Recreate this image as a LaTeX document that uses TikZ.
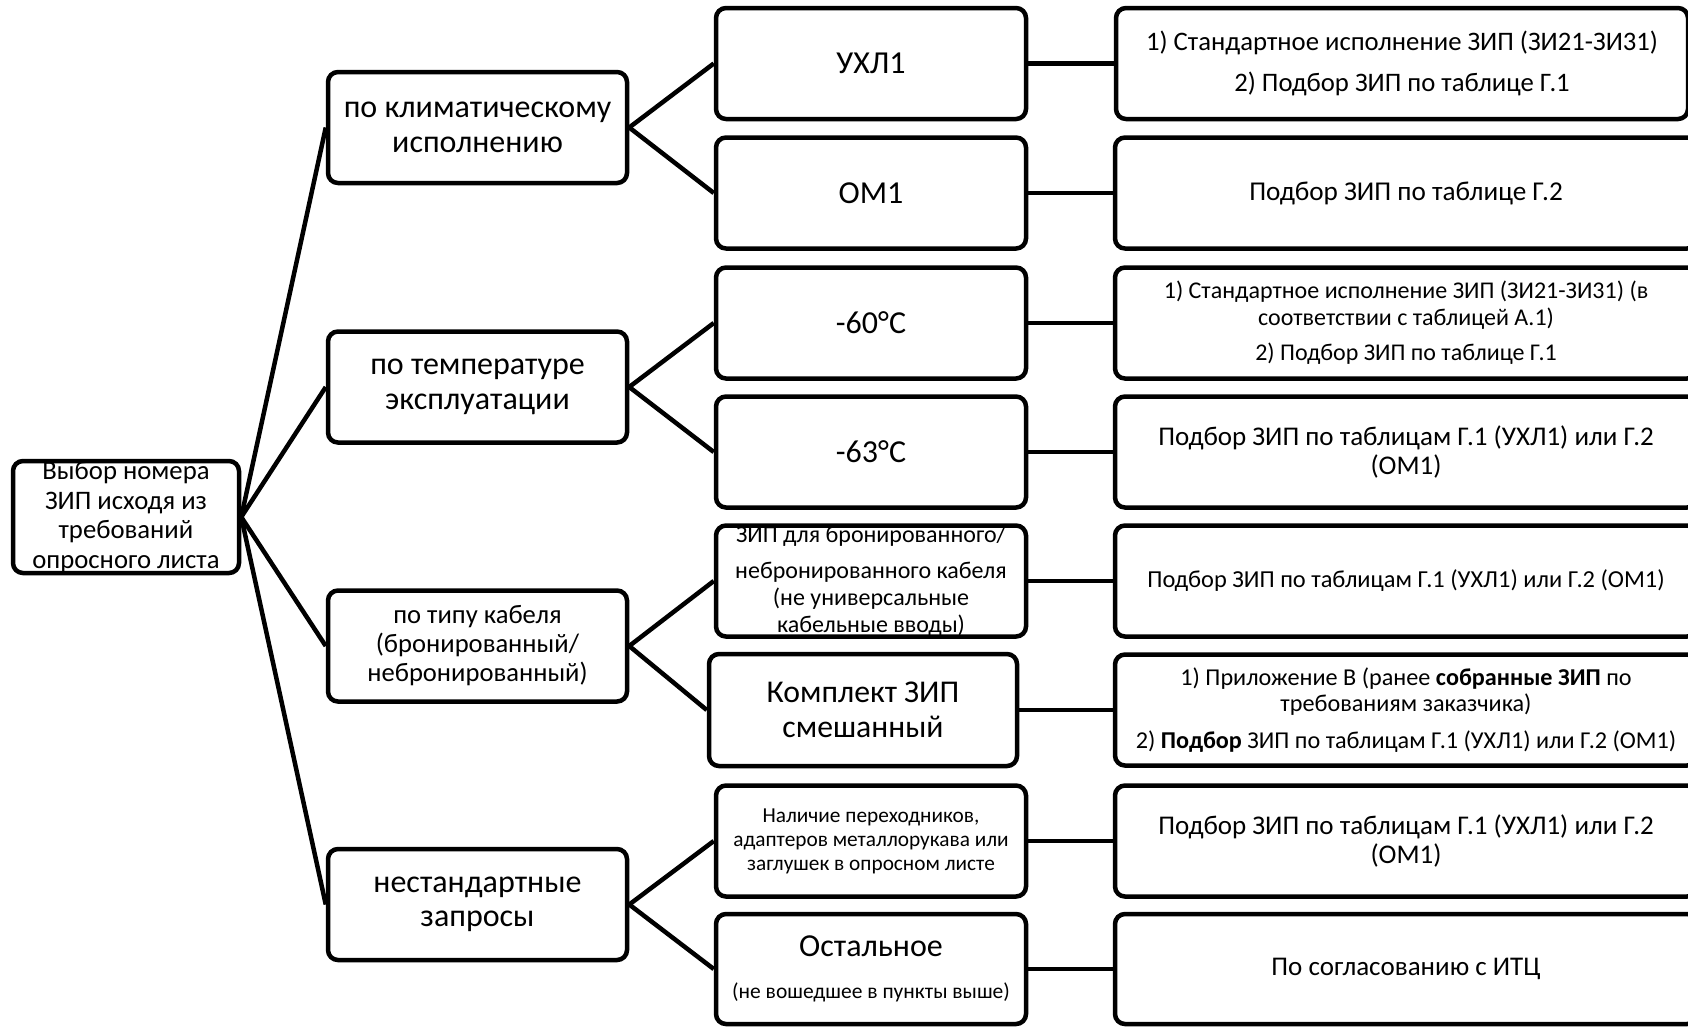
\documentclass[tikz,border=0pt]{standalone}
\usepackage{fontspec}
\setmainfont{Carlito}
\newcommand\setfs[2]{\fontsize{#1}{#2}\selectfont}
\tikzset{
  box/.style={draw, line width=4.5pt, rounded corners=10pt, align=center, inner sep=0pt, text=black, fill=white},
  link/.style={line width=4.5pt},
  lone/.style={box, minimum width=299pt, minimum height=111pt},
  ltwo/.style={box, minimum width=310pt, minimum height=111pt},
  lthree/.style={box, minimum width=582pt, minimum height=111pt},
}
\begin{document}
\begin{tikzpicture}[x=1pt,y=-1pt]
\useasboundingbox (0,0) rectangle (1688,1026);
% root
\node[box, minimum width=226pt, minimum height=112pt, font=\setfs{26.7}{29.5}] (root) at (126,517) {Выбор номера\\ЗИП исходя из\\требований\\опросного листа};
% level 1
\node[lone, font=\setfs{32}{34.5}] (k1) at (477.5,127.5) {по климатическому\\исполнению};
\node[lone, font=\setfs{32}{34.5}] (k2) at (477.5,387) {по температуре\\эксплуатации};
\node[lone, font=\setfs{26.6}{29}] (k3) at (477.5,646) {по типу кабеля\\(бронированный/\\небронированный)};
\node[lone, font=\setfs{32}{34.5}] (k4) at (477.5,904.5) {нестандартные\\запросы};
% level 2
\node[ltwo, font=\setfs{32}{34.5}] (u1) at (871,63.5) {УХЛ1};
\node[ltwo, font=\setfs{32}{34.5}] (u2) at (871,193) {ОМ1};
\node[ltwo, font=\setfs{32}{34.5}] (u3) at (871,323) {-60°C};
\node[ltwo, font=\setfs{32}{34.5}] (u4) at (871,452) {-63°C};
\node[ltwo, font=\setfs{24}{27}] (u5) at (871,581) {ЗИП для бронированного/\\[9pt]небронированного кабеля\\(не универсальные\\кабельные вводы)};
\node[box, minimum width=308pt, minimum height=112pt, font=\setfs{31.7}{34.5}] (u6) at (863,710) {Комплект ЗИП\\смешанный};
\node[ltwo, font=\setfs{21.3}{24}] (u7) at (871,841) {Наличие переходников,\\адаптеров металлорукава или\\заглушек в опросном листе};
\node[ltwo, minimum height=110pt, font=\setfs{32}{34.5}] (u8) at (871,969) {Остальное\\[8pt]{\setfs{21.5}{24}(не вошедшее в пункты выше)}};
% level 3
\node[box, minimum width=572pt, minimum height=111pt, font=\setfs{26.7}{27}] (a1) at (1402,63.5) {1) Стандартное исполнение ЗИП (ЗИ21-ЗИ31)\\[14pt]2) Подбор ЗИП по таблице Г.1};
\node[lthree, font=\setfs{27.2}{29}] (a2) at (1406,193) {Подбор ЗИП по таблице Г.2};
\node[lthree, font=\setfs{24}{27}] (a3) at (1406,323) {1) Стандартное исполнение ЗИП (ЗИ21-ЗИ31) (в\\соответствии с таблицей А.1)\\[8pt]2) Подбор ЗИП по таблице Г.1};
\node[lthree, font=\setfs{27}{29}] (a4) at (1406,452) {Подбор ЗИП по таблицам Г.1 (УХЛ1) или Г.2\\(ОМ1)};
\node[lthree, font=\setfs{24.4}{27}] (a5) at (1406,581) {Подбор ЗИП по таблицам Г.1 (УХЛ1) или Г.2 (ОМ1)};
\node[lthree, font=\setfs{24.2}{26}] (a6) at (1406,710) {1) Приложение В (ранее \textbf{собранные ЗИП} по\\требованиям заказчика)\\[11pt]2) \textbf{Подбор} ЗИП по таблицам Г.1 (УХЛ1) или Г.2 (ОМ1)};
\node[lthree, font=\setfs{27}{29}] (a7) at (1406,841) {Подбор ЗИП по таблицам Г.1 (УХЛ1) или Г.2\\(ОМ1)};
\node[lthree, minimum height=110pt, font=\setfs{27}{29}] (a8) at (1406,969) {По согласованию с ИТЦ};
% connectors
\draw[link] (root.east) -- (k1.west);
\draw[link] (root.east) -- (k2.west);
\draw[link] (root.east) -- (k3.west);
\draw[link] (root.east) -- (k4.west);
\draw[link] (k1.east) -- (u1.west);
\draw[link] (k1.east) -- (u2.west);
\draw[link] (k2.east) -- (u3.west);
\draw[link] (k2.east) -- (u4.west);
\draw[link] (k3.east) -- (u5.west);
\draw[link] (k3.east) -- (u6.west);
\draw[link] (k4.east) -- (u7.west);
\draw[link] (k4.east) -- (u8.west);
\draw[link] (u1.east) -- (a1.west);
\draw[link] (u2.east) -- (a2.west);
\draw[link] (u3.east) -- (a3.west);
\draw[link] (u4.east) -- (a4.west);
\draw[link] (u5.east) -- (a5.west);
\draw[link] (u6.east) -- (a6.west);
\draw[link] (u7.east) -- (a7.west);
\draw[link] (u8.east) -- (a8.west);
\end{tikzpicture}
\end{document}
